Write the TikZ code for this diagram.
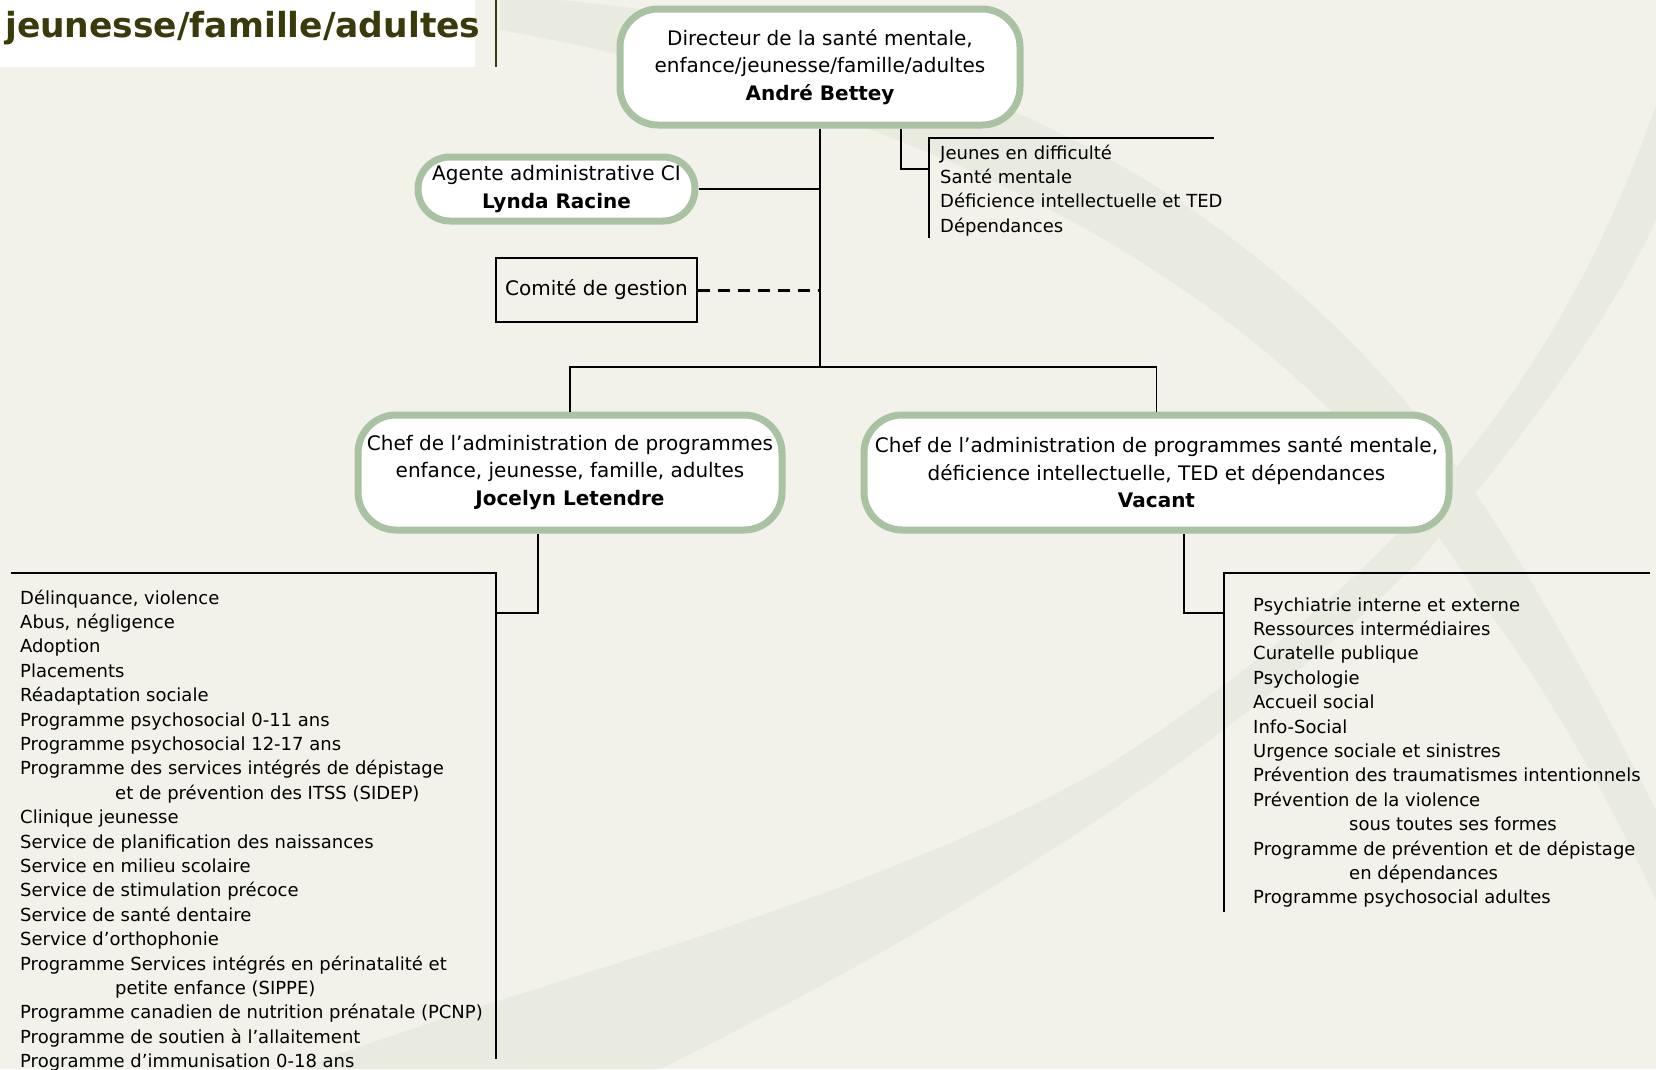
\documentclass[tikz,border=0pt]{standalone}
\usepackage{fontspec}
\setmainfont{DejaVu Sans}
\usepackage{tikz}
\usetikzlibrary{positioning,calc}
\definecolor{pagebg}{HTML}{F2F2EA}
\definecolor{swoosh}{HTML}{EAEBE0}
\definecolor{boxgreen}{HTML}{A9C3A2}
\definecolor{titleolive}{HTML}{3A3A0C}
\newcommand{\boxfont}{\fontsize{20}{27.5}\selectfont}
\newcommand{\listfont}{\fontsize{18}{24.4}\selectfont}

\begin{document}
\begin{tikzpicture}[
        x=1pt, y=-1pt,
        roundbox/.style={rectangle, rounded corners=#1, draw=boxgreen, line width=7pt, fill=white, align=center, inner sep=2pt, font=\boxfont},
        roundbox/.default=38pt,
        plainbox/.style={rectangle, draw=black, line width=1.4pt, align=center, font=\boxfont},
        items/.style={anchor=north west, inner sep=0pt, align=left, font=\listfont},
        link/.style={line width=1.5pt},
        dashlink/.style={line width=3pt, dash pattern=on 12pt off 8pt}
    ]
        \useasboundingbox (0,0) rectangle (1656,1069);
        \fill[pagebg] (0,0) rectangle (1656,1069);
        \fill[swoosh] (560,0) .. controls (1000,40) and (1330,230) .. (1530,580)
            .. controls (1590,680) and (1630,760) .. (1656,810) -- (1656,900)
            .. controls (1600,780) and (1540,680) .. (1480,600)
            .. controls (1320,330) and (1000,120) .. (500,30) -- (500,0) -- cycle;
        \fill[swoosh] (1656,105) .. controls (1560,380) and (1400,580) .. (1100,770)
            .. controls (850,910) and (500,990) .. (300,1069) -- (660,1069)
            .. controls (900,950) and (1200,780) .. (1420,560)
            .. controls (1540,420) and (1620,300) .. (1656,220) -- cycle;

        \fill[white] (0,0) rectangle (475,67);
        \draw[link, titleolive] (496,0) -- (496,67);
        \node[anchor=base west, inner sep=0pt, text=titleolive, font=\fontsize{34.5}{40}\selectfont\bfseries] (title) at (5,37) {jeunesse/famille/adultes};

        \node[roundbox, minimum width=400pt, minimum height=116pt] (dir) at (820,67) {Directeur de la santé mentale,\\enfance/jeunesse/famille/adultes\\\textbf{André Bettey}};
        \node[roundbox=32pt, minimum width=277pt, minimum height=64pt] (agent) at (556.5,189) {Agente administrative CI\\\textbf{Lynda Racine}};
        \node[plainbox, minimum width=201pt, minimum height=64pt] (comite) at (596.5,290) {Comité de gestion};
        \node[roundbox, minimum width=424pt, minimum height=115pt] (chefA) at (570,472.5) {Chef de l’administration de programmes\\enfance, jeunesse, famille, adultes\\\textbf{Jocelyn Letendre}};
        \node[roundbox, minimum width=585pt, minimum height=115pt] (chefB) at (1156.5,472.5) {Chef de l’administration de programmes santé mentale,\\déficience intellectuelle, TED et dépendances\\\textbf{Vacant}};

        \node[items] (jlist) at (940,141.8) {\strut Jeunes en difficulté\\Santé mentale\\Déficience intellectuelle et TED\\Dépendances};
        \node[items] (llist) at (20,586.8) {\strut Délinquance, violence\\Abus, négligence\\Adoption\\Placements\\Réadaptation sociale\\Programme psychosocial 0-11 ans\\Programme psychosocial 12-17 ans\\Programme des services intégrés de dépistage\\\hspace*{95pt}et de prévention des ITSS (SIDEP)\\Clinique jeunesse\\Service de planification des naissances\\Service en milieu scolaire\\Service de stimulation précoce\\Service de santé dentaire\\Service d’orthophonie\\Programme Services intégrés en périnatalité et\\\hspace*{95pt}petite enfance (SIPPE)\\Programme canadien de nutrition prénatale (PCNP)\\Programme de soutien à l’allaitement\\Programme d’immunisation 0-18 ans};
        \node[items] (rlist) at (1253,593.8) {\strut Psychiatrie interne et externe\\Ressources intermédiaires\\Curatelle publique\\Psychologie\\Accueil social\\Info-Social\\Urgence sociale et sinistres\\Prévention des traumatismes intentionnels\\Prévention de la violence\\\hspace*{96pt}sous toutes ses formes\\Programme de prévention et de dépistage\\\hspace*{96pt}en dépendances\\Programme psychosocial adultes};

        \coordinate (hub) at (820,367);
        \coordinate (jcorner) at (929,169);
        \coordinate (jtopend) at (1214,138);
        \coordinate (jtop) at (929,138);
        \coordinate (jbottom) at (929,238);
        \coordinate (lcorner) at (496,613);
        \coordinate (ltopend) at (11,573);
        \coordinate (ltop) at (496,573);
        \coordinate (lbottom) at (496,1059);
        \coordinate (rcorner) at (1224,613);
        \coordinate (rtopend) at (1650,573);
        \coordinate (rtop) at (1224,573);
        \coordinate (rbottom) at (1224,912);

        \draw[link] (dir.south) -- (hub);
        \draw[link] (agent.east) -- (agent.east -| hub);
        \draw[dashlink] (comite.east) -- (comite.east -| hub);
        \draw[link] (chefA.north) |- (hub) -| (chefB.north);
        \draw[link] ([xshift=81pt]dir.south) |- (jcorner);
        \draw[link] ([xshift=-32pt]chefA.south) |- (lcorner);
        \draw[link] ([xshift=27.5pt]chefB.south) |- (rcorner);

        \draw[link] (jtopend) -- (jtop) -- (jbottom);
        \draw[link] (ltopend) -- (ltop) -- (lbottom);
        \draw[link] (rtopend) -- (rtop) -- (rbottom);
    \end{tikzpicture}
\end{document}
